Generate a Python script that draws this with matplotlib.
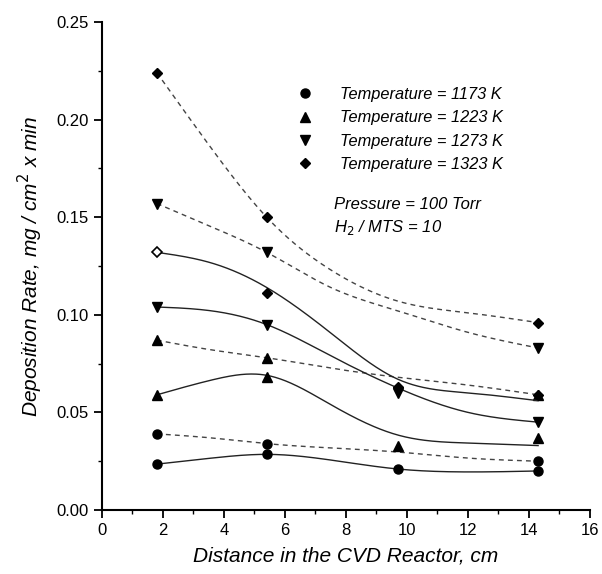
import numpy as np
import matplotlib
matplotlib.use('Agg')
import matplotlib.pyplot as plt
from matplotlib.lines import Line2D

plt.rcParams['font.family'] = ['Liberation Sans', 'DejaVu Sans']

# positions along reactor, cm
x_pos = [1.8, 5.4, 9.7, 14.3]
temps = ['1173', '1223', '1273', '1323']
marks = ['o', '^', 'v', 'D']

# measured points, upper (dashed) set; nan = no point
dash_pts = {
    '1173': [0.039, 0.034, np.nan, 0.025],
    '1223': [0.087, 0.078, np.nan, 0.059],
    '1273': [0.157, 0.132, np.nan, 0.083],
    '1323': [0.224, 0.150, np.nan, 0.096],
}
# measured points, lower (solid) set
solid_pts = {
    '1173': [0.0235, 0.0285, 0.021, 0.020],
    '1223': [0.059, 0.068, 0.033, 0.037],
    '1273': [0.104, 0.095, 0.060, 0.045],
    '1323': [0.132, 0.111, 0.063, 0.059],
}
# fitted curves at these x
x_curve = [1.8, 3.6, 5.4, 7.5, 9.7, 12.0, 14.3]
dash_curve = {
    '1173': [0.039, 0.0369, 0.034, 0.0318, 0.0297, 0.0266, 0.025],
    '1223': [0.087, 0.082, 0.078, 0.0727, 0.068, 0.064, 0.059],
    '1273': [0.157, 0.145, 0.132, 0.114, 0.102, 0.091, 0.083],
    '1323': [0.224, 0.185, 0.150, 0.123, 0.107, 0.101, 0.096],
}
solid_curve = {
    '1173': [0.0235, 0.0266, 0.0285, 0.0256, 0.021, 0.0195, 0.020],
    '1223': [0.059, 0.0666, 0.069, 0.054, 0.0384, 0.0343, 0.033],
    '1273': [0.104, 0.102, 0.095, 0.079, 0.0625, 0.050, 0.045],
    '1323': [0.132, 0.1265, 0.114, 0.0907, 0.067, 0.060, 0.056],
}


def smooth(xk, yk):
    # natural cubic spline through the knots, only for drawing the line
    xk = np.asarray(xk, float)
    yk = np.asarray(yk, float)
    n = len(xk)
    h = np.diff(xk)
    A = np.zeros((n, n))
    b = np.zeros(n)
    A[0, 0] = A[-1, -1] = 1
    for i in range(1, n - 1):
        A[i, i - 1] = h[i - 1]
        A[i, i] = 2 * (h[i - 1] + h[i])
        A[i, i + 1] = h[i]
        b[i] = 6 * ((yk[i + 1] - yk[i]) / h[i] - (yk[i] - yk[i - 1]) / h[i - 1])
    M = np.linalg.solve(A, b)
    xs = np.linspace(xk[0], xk[-1], 300)
    i = np.clip(np.searchsorted(xk, xs, side='right') - 1, 0, n - 2)
    a = xk[i + 1] - xs
    c = xs - xk[i]
    hi = h[i]
    ys = (M[i] * a**3 + M[i + 1] * c**3) / (6 * hi) \
        + (yk[i] / hi - M[i] * hi / 6) * a + (yk[i + 1] / hi - M[i + 1] * hi / 6) * c
    return xs, ys


fig = plt.figure(figsize=(6.02, 5.74), dpi=100)
ax = fig.add_axes([0.1694, 0.1115, 0.8106, 0.8502])

for t, m in zip(temps, marks):
    xs, ys = smooth(x_curve, dash_curve[t])
    ax.plot(xs, ys, ls=(0, (3.5, 3)), color='#444444', lw=1.0)
    xs, ys = smooth(x_curve, solid_curve[t])
    ax.plot(xs, ys, ls='-', color='#222222', lw=1.0)
    ms = 5 if m == 'D' else 6.5
    ax.plot(x_pos, dash_pts[t], ls='none', marker=m, color='black', ms=ms)
    ys = solid_pts[t]
    if t == '1323':
        ax.plot(x_pos[:1], ys[:1], ls='none', marker=m, mfc='white', mec='black', mew=1.2, ms=ms)
        ax.plot(x_pos[1:], ys[1:], ls='none', marker=m, color='black', ms=ms)
    else:
        ax.plot(x_pos, ys, ls='none', marker=m, color='black', ms=ms)

handles = [Line2D([], [], ls='none', marker=m, color='black', ms=(5 if m == 'D' else 6.5)) for m in marks]
labels = ['Temperature = %s K' % t for t in temps]
leg = ax.legend(handles, labels, loc='upper left', bbox_to_anchor=(0.372, 0.89), frameon=False,
                prop={'style': 'italic', 'size': 11.8}, handletextpad=1.55, labelspacing=0.5,
                handlelength=1.2, borderpad=0.2)

ax.text(7.62, 0.1565, 'Pressure = 100 Torr', fontsize=12, style='italic', va='center')
ax.text(7.62, 0.1445, 'H$_2$ / MTS = 10', fontsize=12, style='italic', va='center')

ax.set_xlim(0, 16)
ax.set_ylim(0, 0.25)
ax.set_xticks(np.arange(0, 17, 2))
ax.set_xticks(np.arange(1, 16, 2), minor=True)
ax.set_yticks(np.arange(0, 0.26, 0.05))
ax.set_yticks(np.arange(0.025, 0.25, 0.05), minor=True)
ax.set_yticklabels(['%.2f' % v for v in np.arange(0, 0.26, 0.05)])
ax.tick_params(which='major', direction='out', length=6, width=1.3, labelsize=12)
ax.tick_params(which='minor', direction='out', length=3, width=1.0)
for s in ['top', 'right']:
    ax.spines[s].set_visible(False)
for s in ['left', 'bottom']:
    ax.spines[s].set_linewidth(1.5)

ax.set_xlabel('Distance in the CVD Reactor, cm', fontsize=15, style='italic', labelpad=6)
ax.set_ylabel('Deposition Rate, mg / cm$^2$ x min', fontsize=15, style='italic', labelpad=8)

fig.savefig('out.png', dpi=100)
